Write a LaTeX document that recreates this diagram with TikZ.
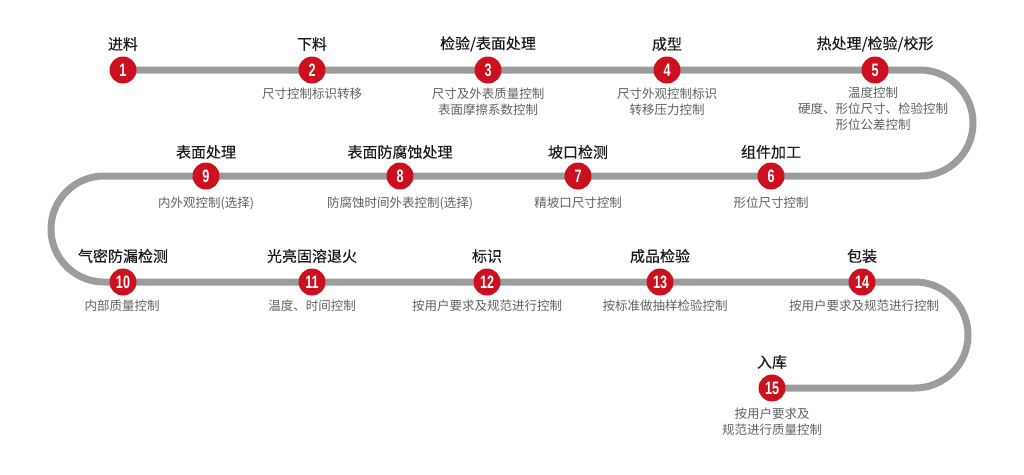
\documentclass[tikz,border=0pt]{standalone}
\usepackage{fontspec}
\setmainfont{Noto Sans CJK SC}
\newfontfamily\cjk{Noto Sans CJK SC}
\newfontfamily\cjktitle[FakeBold=0.2]{Noto Sans CJK SC}
\newfontfamily\numfont[FakeStretch=0.7]{Liberation Sans Bold}
\usetikzlibrary{backgrounds}
\definecolor{stepred}{RGB}{204,16,30}
\definecolor{trackgray}{RGB}{156,156,156}
\definecolor{descgray}{RGB}{96,96,96}
\definecolor{titleblack}{RGB}{25,25,25}
\tikzset{
  numdot/.style={circle, fill=stepred, text=white, minimum size=27pt, inner sep=0pt, font=\numfont\fontsize{18}{18}\selectfont},
  ttl/.style={text=titleblack, inner sep=0pt, font=\cjktitle\fontsize{15}{18}\selectfont},
  dsc/.style={text=descgray, inner sep=0pt, align=center, font=\cjk\fontsize{12.5}{16}\selectfont},
  track/.style={draw=trackgray, line width=7pt}
}
\begin{document}
\begin{tikzpicture}[x=1pt,y=-1pt]
\useasboundingbox (0,0) rectangle (1024,474);
% row 1
\node[numdot] (n1) at (123,70) {1};
\node[numdot] (n2) at (312,70) {2};
\node[numdot] (n3) at (488,70) {3};
\node[numdot] (n4) at (667,70) {4};
\node[numdot] (n5) at (875,70) {5};
% row 2
\node[numdot] (n6) at (771,176) {6};
\node[numdot] (n7) at (578,176) {7};
\node[numdot] (n8) at (400,176) {8};
\node[numdot] (n9) at (206,176) {9};
% row 3
\node[numdot] (n10) at (123,282) {10};
\node[numdot] (n11) at (312,282) {11};
\node[numdot] (n12) at (487,282) {12};
\node[numdot] (n13) at (660,282) {13};
\node[numdot] (n14) at (862,282) {14};
% row 4
\node[numdot] (n15) at (772,388) {15};

\coordinate (r1) at (920,70);
\coordinate (l1) at (104,176);
\coordinate (r2) at (915,282);
\begin{scope}[on background layer]
\draw[track] (n1.center) -- (r1) arc[start angle=-90,end angle=90,radius=53]
  -- (l1) arc[start angle=270,end angle=90,radius=53]
  -- (r2) arc[start angle=-90,end angle=90,radius=53] -- (n15.center);
\end{scope}

% titles
\node[ttl] (t1) at (123,44) {进料};
\node[ttl] (t2) at (312,44) {下料};
\node[ttl] (t3) at (488,44) {检验/表面处理};
\node[ttl] (t4) at (667,44) {成型};
\node[ttl] (t5) at (875,44) {热处理/检验/校形};
\node[ttl] (t6) at (771,152) {组件加工};
\node[ttl] (t7) at (578,152) {坡口检测};
\node[ttl] (t8) at (400,152) {表面防腐蚀处理};
\node[ttl] (t9) at (206,152) {表面处理};
\node[ttl] (t10) at (123,256) {气密防漏检测};
\node[ttl] (t11) at (312,256) {光亮固溶退火};
\node[ttl] (t12) at (487,256) {标识};
\node[ttl] (t13) at (660,256) {成品检验};
\node[ttl] (t14) at (862,256) {包装};
\node[ttl] (t15) at (772,362) {入库};

% descriptions
\node[dsc, anchor=north] (d2) at (312,88) {尺寸控制标识转移};
\node[dsc, anchor=north] (d3) at (488,88) {尺寸及外表质量控制\\表面摩擦系数控制};
\node[dsc, anchor=north] (d4) at (667,88) {尺寸外观控制标识\\转移压力控制};
\node[dsc, anchor=north] (d5) at (873,87) {温度控制\\硬度、形位尺寸、检验控制\\形位公差控制};
\node[dsc, anchor=north] (d6) at (771,197) {形位尺寸控制};
\node[dsc, anchor=north] (d7) at (578,197) {精坡口尺寸控制};
\node[dsc, anchor=north] (d8) at (400,197) {防腐蚀时间外表控制(选择)};
\node[dsc, anchor=north] (d9) at (206,197) {内外观控制(选择)};
\node[dsc, anchor=north] (d10) at (122,300) {内部质量控制};
\node[dsc, anchor=north] (d11) at (312,300) {温度、时间控制};
\node[dsc, anchor=north] (d12) at (487,300) {按用户要求及规范进行控制};
\node[dsc, anchor=north] (d13) at (665,300) {按标准做抽样检验控制};
\node[dsc, anchor=north] (d14) at (864,300) {按用户要求及规范进行控制};
\node[dsc, anchor=north] (d15) at (772,408) {按用户要求及\\规范进行质量控制};
\end{tikzpicture}
\end{document}
